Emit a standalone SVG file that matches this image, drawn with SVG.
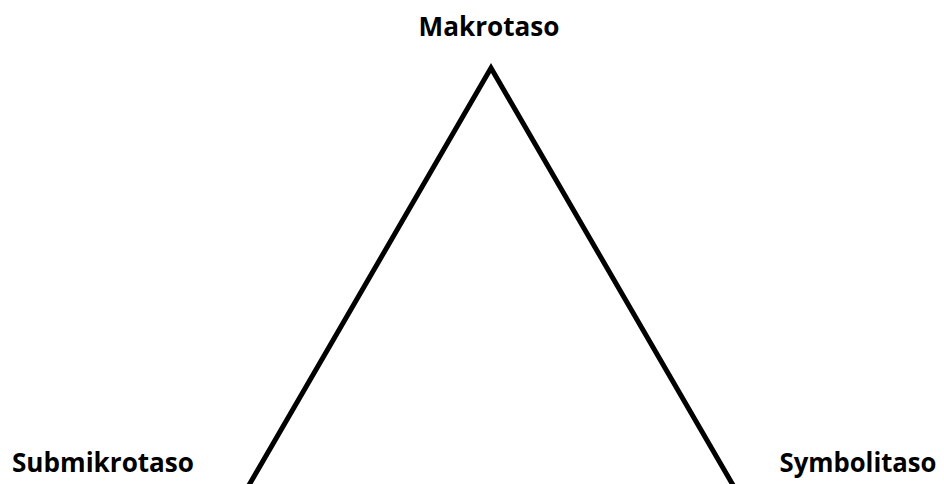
<svg xmlns="http://www.w3.org/2000/svg" width="944" height="484" viewBox="0 0 944 484">
<style>
.lbl{font-family:"Open Sans","Liberation Sans",sans-serif;font-weight:bold;font-size:26px;fill:#000;text-anchor:middle}
.edge{fill:none;stroke:#000;stroke-width:5;stroke-linejoin:miter;stroke-miterlimit:10}
</style>
<rect width="944" height="484" fill="#fff"/>
<g id="connectors">
<polyline class="edge" points="245,492 491,68 737,492"/>
</g>
<g id="makrotaso"><text class="lbl" x="489" y="36" textLength="141" lengthAdjust="spacingAndGlyphs">Makrotaso</text></g>
<g id="submikrotaso"><text class="lbl" x="103" y="472" textLength="182" lengthAdjust="spacingAndGlyphs">Submikrotaso</text></g>
<g id="symbolitaso"><text class="lbl" x="858" y="472" textLength="157" lengthAdjust="spacingAndGlyphs">Symbolitaso</text></g>
</svg>
